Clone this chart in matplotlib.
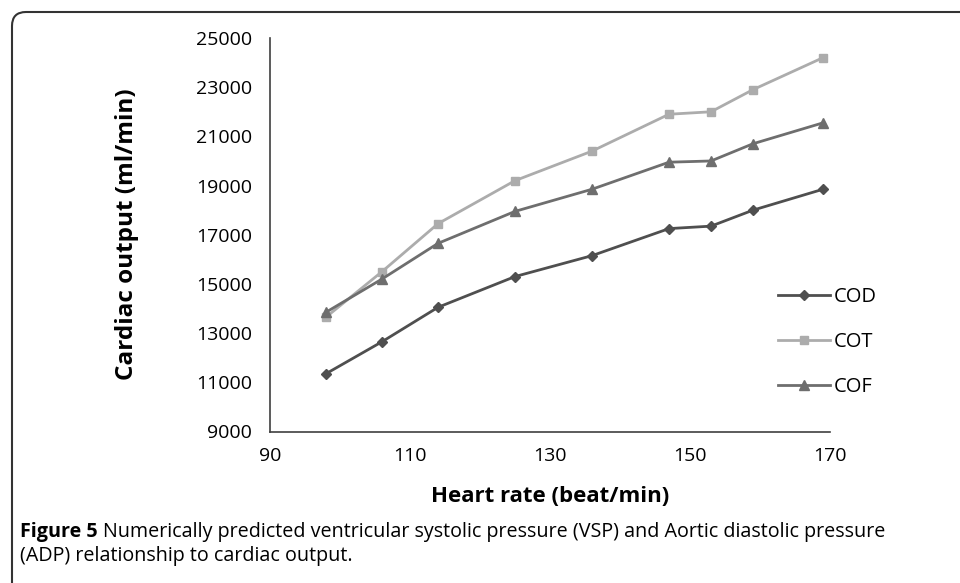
import matplotlib
matplotlib.use("Agg")
import matplotlib.pyplot as plt
from matplotlib.patches import FancyBboxPatch
from matplotlib.transforms import IdentityTransform

# values
heart_rate = [98, 106, 114, 125, 136, 147, 153, 159, 169]
cod = [11350, 12650, 14050, 15300, 16150, 17250, 17350, 18000, 18850]
cot = [13650, 15500, 17450, 19200, 20400, 21900, 22000, 22900, 24200]
cof = [13850, 15200, 16650, 17950, 18850, 19950, 20000, 20700, 21550]

x_ticks = [90, 110, 130, 150, 170]
y_ticks = [9000, 11000, 13000, 15000, 17000, 19000, 21000, 23000, 25000]

FONT = "Open Sans"
W, H = 960, 583

fig = plt.figure(figsize=(W / 100, H / 100), dpi=100)
fig.patch.set_facecolor("white")
ax = fig.add_axes([270 / W, 1 - 431.5 / H, 560 / W, 393.5 / H])

ax.plot(heart_rate, cod, color="#4f4f4f", lw=2.0, marker="D", ms=5.5, label="COD")
ax.plot(heart_rate, cot, color="#acacac", lw=2.0, marker="s", ms=6, label="COT")
ax.plot(heart_rate, cof, color="#6e6e6e", lw=2.0, marker="^", ms=6.5, label="COF")

ax.set_xlim(90, 170)
ax.set_ylim(9000, 25000)
ax.set_xticks(x_ticks)
ax.set_yticks(y_ticks)
ax.tick_params(length=0, labelsize=14)
ax.tick_params(axis="y", pad=13)
ax.tick_params(axis="x", pad=11)
for lab in ax.get_xticklabels() + ax.get_yticklabels():
    lab.set_fontfamily(FONT)

for side in ["top", "right"]:
    ax.spines[side].set_visible(False)
for side in ["left", "bottom"]:
    ax.spines[side].set_color("#404040")
    ax.spines[side].set_linewidth(1.2)

leg = ax.legend(loc="upper left", bbox_to_anchor=(770 / W, 1 - 279 / H),
                bbox_transform=fig.transFigure, frameon=False,
                prop={"family": FONT, "size": 14.5}, handlelength=2.6,
                handletextpad=0.15, labelspacing=1.25, borderaxespad=0)

fig.text(127 / W, 1 - 234 / H, "Cardiac output (ml/min)", rotation=90,
         ha="center", va="center", fontsize=17.5, fontweight="bold", family=FONT)
fig.text(550 / W, 1 - 496 / H, "Heart rate (beat/min)", ha="center",
         va="center", fontsize=16, fontweight="bold", family=FONT)

# caption under the plot, bold "Figure 5" then regular text
renderer = fig.canvas.get_renderer()
cap_y1 = 1 - 532 / H
cap_y2 = 1 - 556 / H
t = fig.text(20 / W, cap_y1, "Figure 5", fontsize=14.2, fontweight="bold",
             family=FONT, va="center")
bb = t.get_window_extent(renderer)
fig.text((bb.x1 + 5) / W, cap_y1,
         "Numerically predicted ventricular systolic pressure (VSP) and Aortic diastolic pressure",
         fontsize=14.2, family=FONT, va="center")
fig.text(20 / W, cap_y2, "(ADP) relationship to cardiac output.", fontsize=14.2,
         family=FONT, va="center")

# rounded frame around the figure panel, running off the right and bottom edges
frame = FancyBboxPatch((12, -30), 1000, H - 12 + 30,
                       boxstyle="round,pad=0,rounding_size=14",
                       transform=IdentityTransform(), fill=False,
                       edgecolor="#333333", linewidth=1.5)
fig.patches.append(frame)

fig.savefig("out.png", dpi=100)
